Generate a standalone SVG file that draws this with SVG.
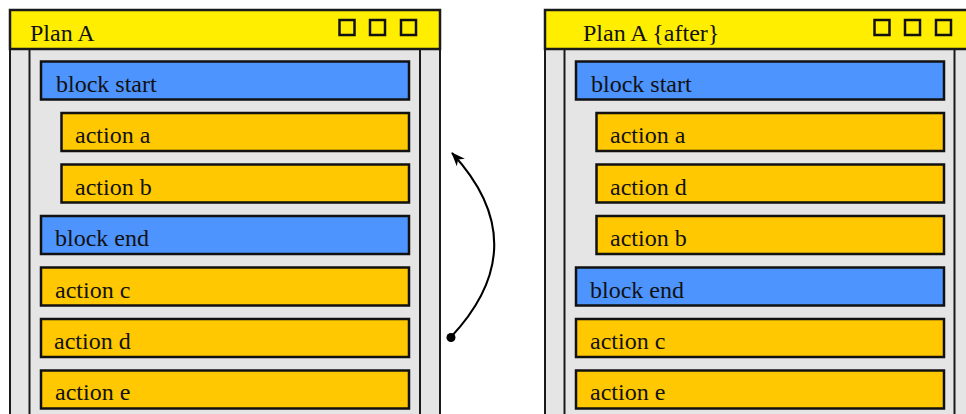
<svg xmlns="http://www.w3.org/2000/svg" width="966" height="414" viewBox="0 0 966 414">
<style>
.body{fill:#e5e5e5;stroke:#1a1a1a;stroke-width:2}
.col{stroke:#1a1a1a;stroke-width:2;fill:none}
.title{fill:#ffee00;stroke:#1a1a1a;stroke-width:2.5}
.sq{fill:none;stroke:#111;stroke-width:2.5}
.blue{fill:#4d94ff;stroke:#111;stroke-width:2.5}
.orange{fill:#ffc800;stroke:#111;stroke-width:2.5}
text{font-family:"Liberation Serif","DejaVu Serif",serif;font-size:24px;fill:#111}
</style>
<defs>
<marker id="arr" viewBox="0 0 14 12" refX="13" refY="6" markerWidth="14" markerHeight="12" markerUnits="userSpaceOnUse" orient="auto">
<path d="M0,0.5 L14,6 L0,11.5 L4,6 Z" fill="#000"/>
</marker>
</defs>
<g id="windowLeft">
<rect class="body" x="10" y="49" width="430" height="380"/>
<line class="col" x1="29.5" y1="49" x2="29.5" y2="420"/>
<line class="col" x1="420" y1="49" x2="420" y2="420"/>
<rect class="title" x="10" y="10" width="430" height="39"/>
<text x="30" y="41">Plan A</text>
<rect class="sq" x="339.5" y="20" width="15" height="15"/>
<rect class="sq" x="370" y="20" width="15" height="15"/>
<rect class="sq" x="401" y="20" width="15" height="15"/>
</g>
<g id="L-blockstart"><rect class="blue" x="41" y="61.5" width="368" height="38"/><text x="56" y="92">block start</text></g>
<g id="L-actiona"><rect class="orange" x="61.5" y="113" width="347.5" height="38"/><text x="75" y="143">action a</text></g>
<g id="L-actionb"><rect class="orange" x="61.5" y="164.5" width="347.5" height="38"/><text x="75" y="195">action b</text></g>
<g id="L-blockend"><rect class="blue" x="41" y="216" width="368" height="38"/><text x="55" y="246">block end</text></g>
<g id="L-actionc"><rect class="orange" x="41" y="267.5" width="368" height="38"/><text x="55" y="298">action c</text></g>
<g id="L-actiond"><rect class="orange" x="41" y="319" width="368" height="38"/><text x="54" y="349">action d</text></g>
<g id="L-actione"><rect class="orange" x="41" y="370.5" width="368" height="38"/><text x="55" y="400">action e</text></g>

<g id="windowRight">
<rect class="body" x="545" y="49" width="430" height="380"/>
<line class="col" x1="564.5" y1="49" x2="564.5" y2="420"/>
<line class="col" x1="954.5" y1="49" x2="954.5" y2="420"/>
<rect class="title" x="545" y="10" width="430" height="39"/>
<text x="583" y="41">Plan A {after}</text>
<rect class="sq" x="874.5" y="20" width="15" height="15"/>
<rect class="sq" x="905" y="20" width="15" height="15"/>
<rect class="sq" x="936" y="20" width="15" height="15"/>
</g>
<g id="R-blockstart"><rect class="blue" x="576" y="61.5" width="368" height="38"/><text x="591" y="92">block start</text></g>
<g id="R-actiona"><rect class="orange" x="596.5" y="113" width="347.5" height="38"/><text x="610" y="143">action a</text></g>
<g id="R-actiond"><rect class="orange" x="596.5" y="164.5" width="347.5" height="38"/><text x="610" y="195">action d</text></g>
<g id="R-actionb"><rect class="orange" x="596.5" y="216" width="347.5" height="38"/><text x="610" y="246">action b</text></g>
<g id="R-blockend"><rect class="blue" x="576" y="267.5" width="368" height="38"/><text x="590" y="298">block end</text></g>
<g id="R-actionc"><rect class="orange" x="576" y="319" width="368" height="38"/><text x="590" y="349">action c</text></g>
<g id="R-actione"><rect class="orange" x="576" y="370.5" width="368" height="38"/><text x="590" y="400">action e</text></g>

<g id="connectors">
<path d="M451,337 Q537,245 452,153" fill="none" stroke="#000" stroke-width="2" marker-end="url(#arr)"/>
<circle cx="451" cy="337.5" r="4.5" fill="#000"/>
</g>
</svg>
